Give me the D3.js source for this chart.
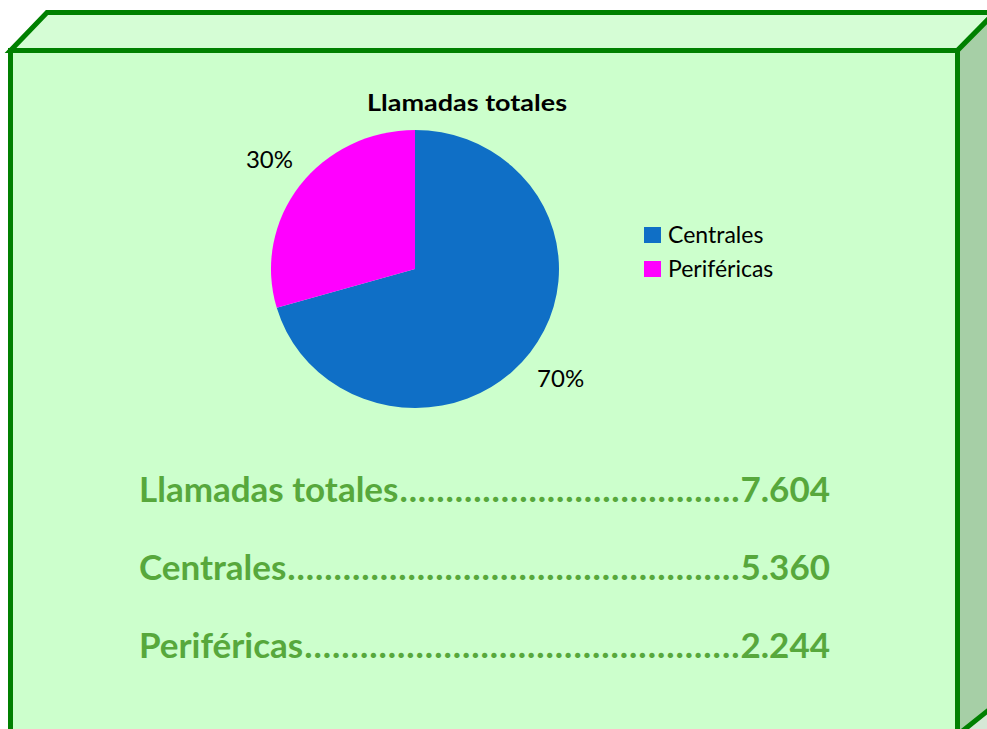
<!DOCTYPE html>
<html>
<head>
<meta charset="utf-8">
<script src="https://cdn.jsdelivr.net/npm/d3@7"></script>
<style>
  body { margin: 0; background: #fff; }
  svg { display: block; }
</style>
</head>
<body>
<div id="chart"></div>
<script>
// data
var categories = ["Centrales", "Periféricas"];
var values = [5360, 2244];
var colors = ["#0f6fc6", "#ff00ff"];
var chartTitle = "Llamadas totales";
var summaryLabels = ["Llamadas totales", "Centrales", "Periféricas"];
var summaryValues = ["7.604", "5.360", "2.244"];

var W = 987, H = 729;
var fontFam = "Lato, 'Open Sans', sans-serif";

var svg = d3.select("#chart")
  .append("svg")
    .attr("width", W)
    .attr("height", H);

// 3d box background
var edge = "#008000";
svg.append("path")   // floor shadow at right
  .attr("d", "M957,729 L990,700 L990,729 Z")
  .style("fill", "#d6e8d6");
svg.append("path")   // top face
  .attr("d", "M10.5,50.5 L47,12.5 L995,12.5 L957.5,50.5 Z")
  .style("fill", "#d5fdd5")
  .style("stroke", edge)
  .style("stroke-width", 5)
  .style("stroke-linejoin", "miter");
svg.append("path")   // right face
  .attr("d", "M957.5,50.5 L995,12.5 L995,705 L957.5,735 Z")
  .style("fill", "#a6cfa6")
  .style("stroke", edge)
  .style("stroke-width", 5);
svg.append("rect")   // front face
  .attr("x", 10.5)
  .attr("y", 50.5)
  .attr("width", 947)
  .attr("height", 700)
  .style("fill", "#ccffcc")
  .style("stroke", edge)
  .style("stroke-width", 5);

// title
svg.append("text")
  .attr("x", 467)
  .attr("y", 111)
  .attr("text-anchor", "middle")
  .attr("textLength", 200)
  .attr("lengthAdjust", "spacingAndGlyphs")
  .style("font-family", fontFam)
  .style("font-weight", "bold")
  .style("font-size", "23px")
  .style("fill", "#000")
  .text(chartTitle);

// pie (Excel draws it slightly wider than tall)
var cx = 415, cy = 269, r = 141;
var total = d3.sum(values);
var pie = d3.pie().sort(null).value(function(d) { return d; });
var arcs = pie(values);
var arc = d3.arc().innerRadius(0).outerRadius(r);

var g = svg.append("g")
  .attr("transform", "translate(" + cx + "," + cy + ")");

g.append("g")
  .attr("transform", "scale(" + (144 / r) + "," + (139 / r) + ")")
  .selectAll("path")
  .data(arcs)
  .enter()
  .append("path")
    .attr("d", arc)
    .style("fill", function(d, i) { return colors[i]; });

// percentage labels outside the pie, at the slice middle
var labelR = 182;
g.selectAll("text.pct")
  .data(arcs)
  .enter()
  .append("text")
    .attr("class", "pct")
    .attr("transform", function(d) {
      var a = (d.startAngle + d.endAngle) / 2;
      return "translate(" + (Math.sin(a) * labelR) + "," + (-Math.cos(a) * labelR) + ")";
    })
    .attr("text-anchor", "middle")
    .attr("dy", "0.35em")
    .style("font-family", fontFam)
    .style("font-size", "24px")
    .style("fill", "#000")
    .text(function(d) { return Math.round(d.value / total * 100) + "%"; });

// legend
var legend = svg.append("g")
  .attr("transform", "translate(644,227)");
var items = legend.selectAll("g")
  .data(categories)
  .enter()
  .append("g")
    .attr("transform", function(d, i) { return "translate(0," + (i * 34) + ")"; });
items.append("rect")
  .attr("width", 17)
  .attr("height", 16)
  .style("fill", function(d, i) { return colors[i]; });
items.append("text")
  .attr("x", 24)
  .attr("y", 16)
  .style("font-family", fontFam)
  .style("font-size", "23px")
  .style("fill", "#000")
  .text(function(d) { return d; });

// summary lines with dot leaders
var sx0 = 139, sx1 = 830;
var rows = svg.selectAll("g.row")
  .data(summaryLabels)
  .enter()
  .append("g")
    .attr("class", "row")
    .attr("transform", function(d, i) { return "translate(0," + (502 + i * 78) + ")"; });

rows.each(function(d, i) {
  var row = d3.select(this);
  var font = function(s) {
    return s.style("font-family", fontFam)
      .style("font-weight", "bold")
      .style("font-size", "35px")
      .style("fill", "#57a83c");
  };
  var lab = font(row.append("text").attr("x", sx0).text(d));
  var val = font(row.append("text").attr("x", sx1).attr("text-anchor", "end").text(summaryValues[i]));
  var lw = lab.node().getComputedTextLength();
  var vw = val.node().getComputedTextLength();
  var start = sx0 + lw + 1, end = sx1 - vw - 1;
  var dots = font(row.append("text").attr("x", start));
  var one = dots.text(".").node().getComputedTextLength();
  var n = Math.floor((end - start) / (one * 1.1));
  dots.text(".".repeat(n))
    .attr("textLength", end - start)
    .attr("lengthAdjust", "spacing");
});
</script>
</body>
</html>
